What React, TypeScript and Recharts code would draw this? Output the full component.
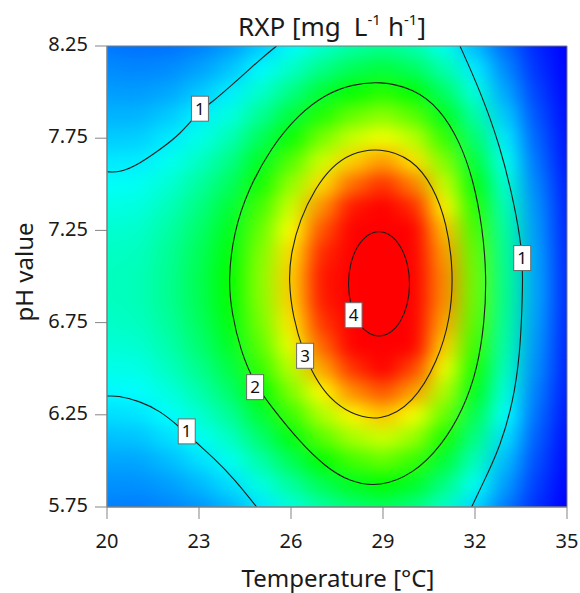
import { ComposedChart, XAxis, YAxis, Scatter, Line, ReferenceArea } from 'recharts';

// grid of RXP values (rows = pH, top to bottom; cols = temperature)
const temperatures = [20, 21, 22, 23, 24, 25, 26, 27, 28, 29, 30, 31, 32, 33, 34, 35];
const phLevels = [
  8.25, 8.125, 8.0, 7.875, 7.75, 7.625, 7.5, 7.375, 7.25, 7.125, 7.0,
  6.875, 6.75, 6.625, 6.5, 6.375, 6.25, 6.125, 6.0, 5.875, 5.75,
];
const rxpGrid = [
  [0.55, 0.52, 0.53, 0.58, 0.68, 0.85, 1.04, 1.23, 1.38, 1.46, 1.35, 1.11, 0.8, 0.5, 0.24, 0.09],
  [0.62, 0.6, 0.62, 0.7, 0.83, 1.03, 1.26, 1.5, 1.68, 1.78, 1.65, 1.36, 0.98, 0.61, 0.29, 0.11],
  [0.69, 0.68, 0.72, 0.84, 0.99, 1.24, 1.51, 1.8, 2.01, 2.13, 1.98, 1.62, 1.17, 0.72, 0.35, 0.13],
  [0.77, 0.77, 0.85, 0.99, 1.16, 1.45, 1.77, 2.11, 2.36, 2.49, 2.31, 1.9, 1.37, 0.85, 0.41, 0.15],
  [0.86, 0.87, 0.97, 1.13, 1.33, 1.66, 2.03, 2.42, 2.71, 2.86, 2.66, 2.18, 1.58, 0.97, 0.47, 0.17],
  [0.97, 0.98, 1.1, 1.27, 1.5, 1.87, 2.29, 2.73, 3.05, 3.22, 2.99, 2.45, 1.78, 1.1, 0.53, 0.19],
  [1.07, 1.09, 1.21, 1.41, 1.65, 2.06, 2.53, 3.01, 3.36, 3.55, 3.3, 2.71, 1.96, 1.21, 0.59, 0.21],
  [1.15, 1.17, 1.31, 1.52, 1.79, 2.23, 2.73, 3.25, 3.63, 3.84, 3.57, 2.93, 2.12, 1.31, 0.64, 0.23],
  [1.22, 1.24, 1.39, 1.61, 1.89, 2.36, 2.89, 3.44, 3.85, 4.07, 3.78, 3.1, 2.24, 1.39, 0.67, 0.24],
  [1.27, 1.29, 1.44, 1.67, 1.96, 2.45, 3.0, 3.57, 3.99, 4.22, 3.92, 3.21, 2.33, 1.44, 0.7, 0.25],
  [1.29, 1.31, 1.46, 1.7, 2.0, 2.49, 3.05, 3.63, 4.06, 4.29, 3.99, 3.27, 2.37, 1.46, 0.71, 0.26],
  [1.28, 1.31, 1.46, 1.69, 1.99, 2.48, 3.04, 3.62, 4.04, 4.28, 3.97, 3.26, 2.36, 1.46, 0.71, 0.26],
  [1.25, 1.28, 1.42, 1.65, 1.94, 2.42, 2.97, 3.53, 3.95, 4.18, 3.88, 3.18, 2.3, 1.42, 0.69, 0.25],
  [1.2, 1.22, 1.36, 1.58, 1.86, 2.32, 2.84, 3.38, 3.78, 4.0, 3.71, 3.04, 2.2, 1.36, 0.66, 0.24],
  [1.13, 1.14, 1.28, 1.48, 1.74, 2.18, 2.66, 3.17, 3.54, 3.75, 3.48, 2.85, 2.07, 1.28, 0.62, 0.23],
  [1.03, 1.05, 1.17, 1.36, 1.6, 2.0, 2.45, 2.91, 3.26, 3.44, 3.2, 2.62, 1.9, 1.17, 0.57, 0.21],
  [0.93, 0.95, 1.05, 1.22, 1.44, 1.8, 2.2, 2.62, 2.93, 3.09, 2.87, 2.36, 1.71, 1.05, 0.51, 0.19],
  [0.82, 0.83, 0.93, 1.08, 1.27, 1.59, 1.94, 2.31, 2.59, 2.73, 2.54, 2.08, 1.51, 0.93, 0.45, 0.16],
  [0.72, 0.72, 0.8, 0.93, 1.1, 1.37, 1.68, 2.0, 2.23, 2.36, 2.19, 1.8, 1.3, 0.8, 0.39, 0.14],
  [0.64, 0.64, 0.69, 0.79, 0.93, 1.16, 1.42, 1.69, 1.89, 2.0, 1.86, 1.52, 1.1, 0.68, 0.33, 0.12],
  [0.58, 0.57, 0.6, 0.66, 0.77, 0.96, 1.18, 1.4, 1.57, 1.66, 1.54, 1.26, 0.91, 0.56, 0.27, 0.1],
];

const tempTicks = [20, 23, 26, 29, 32, 35];
const phTicks = [5.75, 6.25, 6.75, 7.25, 7.75, 8.25];

// contour lines
const contour1UpperLeft = [
  { t: 20, ph: 7.568 }, { t: 20.42, ph: 7.563 }, { t: 21.08, ph: 7.613 }, { t: 21.73, ph: 7.689 },
  { t: 22.38, ph: 7.77 }, { t: 23.03, ph: 7.9 }, { t: 23.36, ph: 7.935 }, { t: 24.34, ph: 8.077 },
  { t: 24.99, ph: 8.177 }, { t: 25.53, ph: 8.25 },
];
const contour1LowerLeft = [
  { t: 20, ph: 6.351 }, { t: 20.32, ph: 6.355 }, { t: 21.08, ph: 6.324 }, { t: 21.73, ph: 6.27 },
  { t: 22.33, ph: 6.19 }, { t: 22.92, ph: 6.098 }, { t: 23.47, ph: 6.017 }, { t: 24.12, ph: 5.908 },
  { t: 24.88, ph: 5.75 },
];
const contour1Right = [
  { t: 31.51, ph: 8.25 }, { t: 32.16, ph: 8.01 }, { t: 32.82, ph: 7.71 }, { t: 33.3, ph: 7.38 },
  { t: 33.52, ph: 7.16 }, { t: 33.56, ph: 7.0 }, { t: 33.53, ph: 6.82 }, { t: 33.47, ph: 6.59 },
  { t: 33.25, ph: 6.32 }, { t: 32.82, ph: 6.08 }, { t: 32.38, ph: 5.92 }, { t: 31.89, ph: 5.75 },
];
const contour2 = [
  { t: 23.95, ph: 6.98 }, { t: 24.13, ph: 7.24 }, { t: 24.6, ph: 7.47 }, { t: 25.35, ph: 7.7 },
  { t: 26.25, ph: 7.88 }, { t: 27.15, ph: 7.99 }, { t: 27.95, ph: 8.04 }, { t: 28.9, ph: 8.06 },
  { t: 29.99, ph: 8.02 }, { t: 30.86, ph: 7.91 }, { t: 31.51, ph: 7.73 }, { t: 31.94, ph: 7.526 },
  { t: 32.24, ph: 7.273 }, { t: 32.38, ph: 7.0 }, { t: 32.31, ph: 6.75 }, { t: 32.08, ph: 6.5 },
  { t: 31.62, ph: 6.28 }, { t: 30.9, ph: 6.08 }, { t: 29.99, ph: 5.93 }, { t: 28.9, ph: 5.858 },
  { t: 27.92, ph: 5.885 }, { t: 27.1, ph: 5.97 }, { t: 26.25, ph: 6.11 }, { t: 25.42, ph: 6.28 },
  { t: 24.8, ph: 6.42 }, { t: 24.35, ph: 6.6 }, { t: 24.07, ph: 6.8 },
];
const contour3 = [
  { t: 25.92, ph: 6.98 }, { t: 26.0, ph: 7.13 }, { t: 26.29, ph: 7.31 }, { t: 26.8, ph: 7.48 },
  { t: 27.3, ph: 7.59 }, { t: 27.95, ph: 7.67 }, { t: 28.9, ph: 7.7 }, { t: 29.95, ph: 7.64 },
  { t: 30.64, ph: 7.49 }, { t: 31.08, ph: 7.29 }, { t: 31.3, ph: 7.03 }, { t: 31.2, ph: 6.77 },
  { t: 30.78, ph: 6.54 }, { t: 29.99, ph: 6.31 }, { t: 28.9, ph: 6.212 }, { t: 27.92, ph: 6.255 },
  { t: 27.25, ph: 6.34 }, { t: 26.78, ph: 6.45 }, { t: 26.4, ph: 6.59 }, { t: 26.06, ph: 6.78 },
];
const contour4 = [
  { t: 29.89, ph: 6.96 }, { t: 29.812, ph: 7.071 }, { t: 29.591, ph: 7.165 }, { t: 29.261, ph: 7.228 },
  { t: 28.87, ph: 7.25 }, { t: 28.479, ph: 7.228 }, { t: 28.149, ph: 7.165 }, { t: 27.928, ph: 7.071 },
  { t: 27.85, ph: 6.96 }, { t: 27.928, ph: 6.849 }, { t: 28.149, ph: 6.755 }, { t: 28.479, ph: 6.692 },
  { t: 28.87, ph: 6.67 }, { t: 29.261, ph: 6.692 }, { t: 29.591, ph: 6.755 }, { t: 29.812, ph: 6.849 },
];
const contourLabels = [
  { t: 23.03, ph: 7.91, label: '1' },
  { t: 22.6, ph: 6.16, label: '1' },
  { t: 33.54, ph: 7.1, label: '1' },
  { t: 24.83, ph: 6.4, label: '2' },
  { t: 26.46, ph: 6.57, label: '3' },
  { t: 28.04, ph: 6.79, label: '4' },
];

const FONT = '"Noto Sans", "Open Sans", sans-serif';
const PLOT = { left: 107, top: 46, width: 460, height: 461 };
const CELL_W = PLOT.width / (temperatures.length - 1);
const CELL_H = PLOT.height / (phLevels.length - 1);
const PAD = 40;

const heatCells = phLevels.flatMap((ph, r) =>
  temperatures.map((t, c) => ({ t, ph, rxp: rxpGrid[r][c], r, c }))
);

const colorStops: [number, number[]][] = [
  [0.1, [0, 0, 255]],
  [1.05, [0, 255, 255]],
  [2.0, [0, 255, 0]],
  [2.9, [255, 255, 0]],
  [3.7, [255, 0, 0]],
];

function rxpColor(v: number) {
  if (v <= colorStops[0][0]) return 'rgb(0,0,255)';
  for (let i = 1; i < colorStops.length; i++) {
    const [v1, c1] = colorStops[i];
    if (v <= v1) {
      const [v0, c0] = colorStops[i - 1];
      const k = (v - v0) / (v1 - v0);
      const c = c0.map((x, j) => Math.round(x + (c1[j] - x) * k));
      return `rgb(${c[0]},${c[1]},${c[2]})`;
    }
  }
  return 'rgb(255,0,0)';
}

const HeatCell = (props: any) => {
  const { cx, cy, payload } = props;
  const lastC = temperatures.length - 1;
  const lastR = phLevels.length - 1;
  const x0 = cx - CELL_W / 2 - (payload.c === 0 ? PAD : 0);
  const x1 = cx + CELL_W / 2 + (payload.c === lastC ? PAD : 0);
  const y0 = cy - CELL_H / 2 - (payload.r === 0 ? PAD : 0);
  const y1 = cy + CELL_H / 2 + (payload.r === lastR ? PAD : 0);
  return (
    <rect x={x0} y={y0} width={x1 - x0 + 0.6} height={y1 - y0 + 0.6} fill={rxpColor(payload.rxp)} />
  );
};

const LabelBox = (props: any) => {
  const { cx, cy, payload } = props;
  return (
    <g>
      <rect x={cx - 8.5} y={cy - 12.5} width={17} height={25} fill="#fff" stroke="#6a6a6a" strokeWidth={1} />
      <text x={cx} y={cy + 6} textAnchor="middle" fontSize={17} fontFamily={FONT} fill="#111">
        {payload.label}
      </text>
    </g>
  );
};

const lineProps = {
  dataKey: 'ph',
  stroke: '#1e1e1e',
  strokeWidth: 1.1,
  dot: false,
  activeDot: false,
  isAnimationActive: false,
  legendType: 'none' as const,
  zIndex: 400,
};

export default function App() {
  return (
    <div style={{ position: 'relative', width: 580, height: 593 }}>
      <style>{`
        body { margin: 0; }
        .rxp-heat { filter: url(#heatBlur); clip-path: url(#plotClip); }
      `}</style>
      <ComposedChart width={580} height={593} margin={{ top: 46, right: 13, bottom: 0, left: 0 }}>
        <XAxis
          dataKey="t"
          type="number"
          domain={[20, 35]}
          ticks={tempTicks}
          interval={0}
          allowDataOverflow
          height={86}
          tickSize={12}
          tickMargin={15}
          stroke="#858585"
          tick={{ fontSize: 20, fill: '#1a1a1a', fontFamily: FONT }}
        />
        <YAxis
          dataKey="ph"
          type="number"
          domain={[5.75, 8.25]}
          ticks={phTicks}
          interval={0}
          allowDataOverflow
          width={107}
          tickSize={12}
          tickMargin={7}
          stroke="#858585"
          tickFormatter={(v: number) => v.toFixed(2)}
          tick={{ fontSize: 20, fill: '#1a1a1a', fontFamily: FONT, dy: -2 }}
        />
        <Scatter
          data={heatCells}
          shape={HeatCell}
          className="rxp-heat"
          isAnimationActive={false}
          legendType="none"
          zIndex={50}
        />
        <Line data={contour1UpperLeft} type="basis" {...lineProps} />
        <Line data={contour1LowerLeft} type="basis" {...lineProps} />
        <Line data={contour1Right} type="basis" {...lineProps} />
        <Line data={contour2} type="basisClosed" {...lineProps} />
        <Line data={contour3} type="basisClosed" {...lineProps} />
        <Line data={contour4} type="basisClosed" {...lineProps} />
        <Scatter
          data={contourLabels}
          shape={LabelBox}
          isAnimationActive={false}
          legendType="none"
          zIndex={700}
        />
        <ReferenceArea
          x1={20}
          x2={35}
          y1={5.75}
          y2={8.25}
          fill="none"
          stroke="#7a7a7a"
          strokeWidth={1}
          zIndex={800}
        />
      </ComposedChart>
      <svg
        width={580}
        height={593}
        style={{ position: 'absolute', left: 0, top: 0, pointerEvents: 'none' }}
      >
        <defs>
          <filter
            id="heatBlur"
            filterUnits="userSpaceOnUse"
            x={0}
            y={0}
            width={580}
            height={593}
            colorInterpolationFilters="sRGB"
          >
            <feGaussianBlur stdDeviation="11 8" />
          </filter>
          <clipPath id="plotClip">
            <rect x={PLOT.left} y={PLOT.top} width={PLOT.width} height={PLOT.height} />
          </clipPath>
        </defs>
        <text x={332} y={36} textAnchor="middle" fontSize={26} fontFamily={FONT} fill="#1a1a1a">
          <tspan>RXP [mg</tspan>
          <tspan dx={13}>L</tspan>
          <tspan dy={-11} fontSize={15}>-1</tspan>
          <tspan dy={11} dx={7}>h</tspan>
          <tspan dy={-11} fontSize={15}>-1</tspan>
          <tspan dy={11}>]</tspan>
        </text>
        <text
          transform="translate(33,272) rotate(-90)"
          textAnchor="middle"
          fontSize={24}
          fontFamily={FONT}
          fill="#1a1a1a"
        >
          pH value
        </text>
        <text x={338} y={587} textAnchor="middle" fontSize={24} fontFamily={FONT} fill="#1a1a1a">
          Temperature [°C]
        </text>
      </svg>
    </div>
  );
}
